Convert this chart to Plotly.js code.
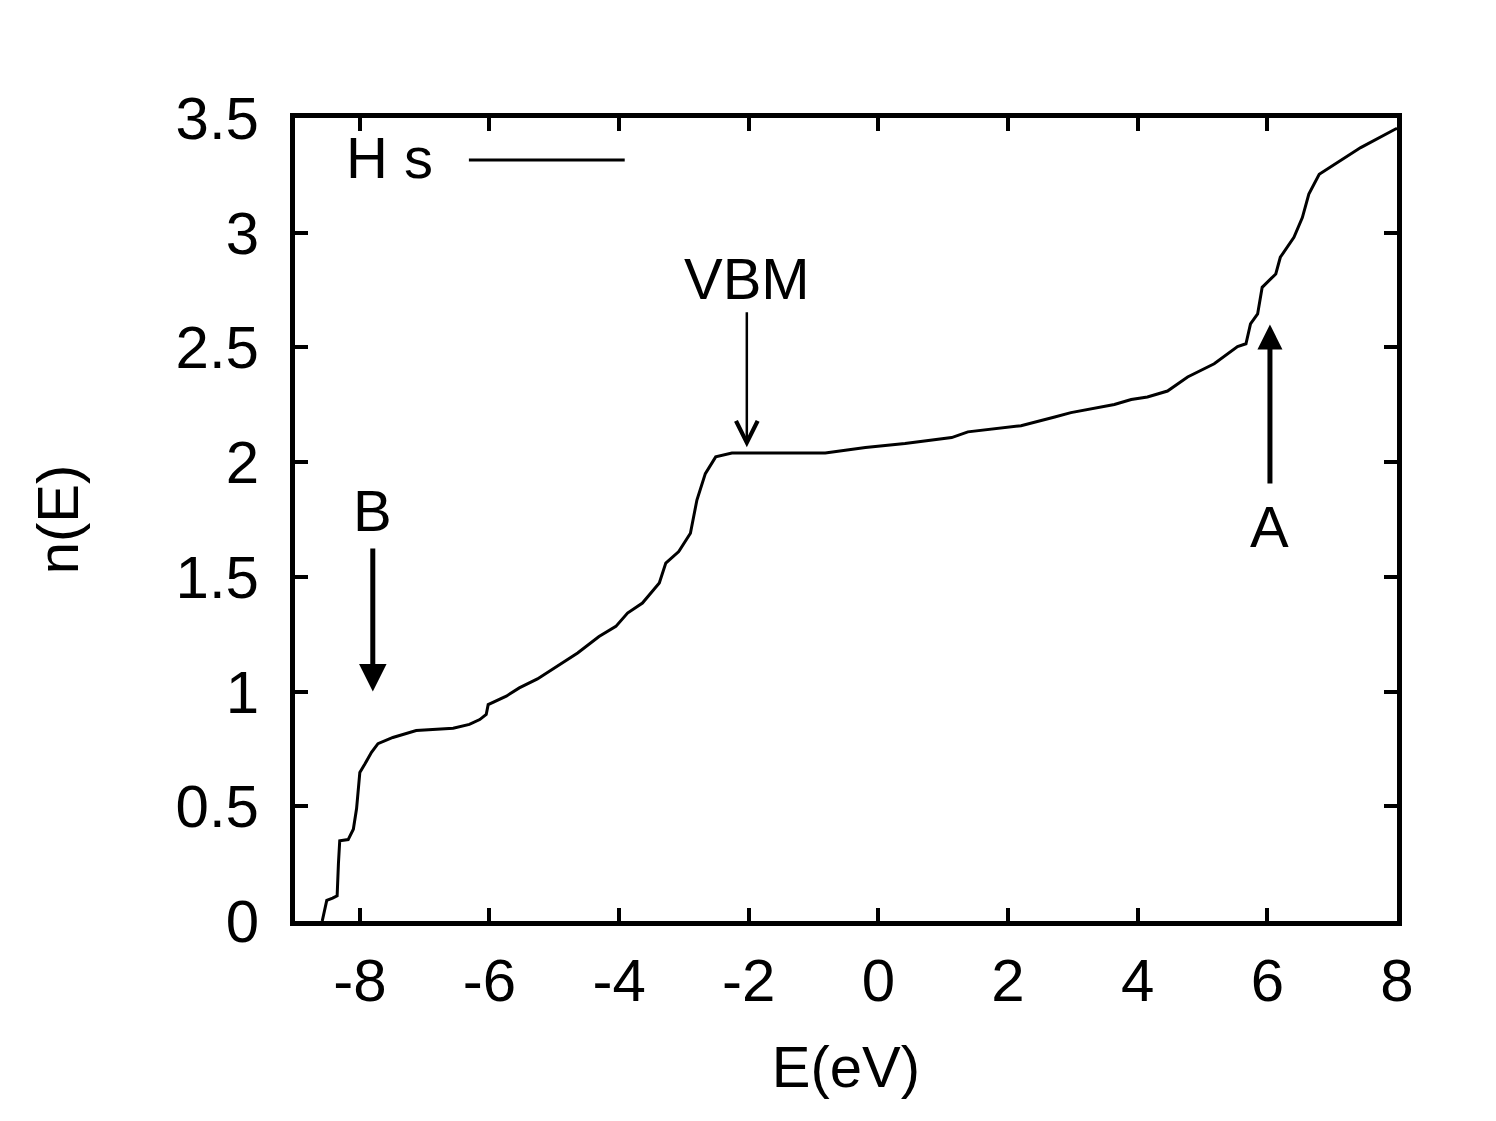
<!DOCTYPE html>
<html>
<head>
<meta charset="utf-8">
<script src="https://cdn.plot.ly/plotly-3.0.1.min.js"></script>
<style>html,body{margin:0;padding:0;background:#fff;}#chart{width:1496px;height:1121px;}</style>
</head>
<body>
<div id="chart"></div>
<script>
// Energy (eV) and integrated H s states n(E)
const energy = [-8.58, -8.51, -8.42, -8.35, -8.33, -8.31, -8.18, -8.10, -8.05, -8.02, -8.00, -7.92, -7.82, -7.72, -7.49, -7.13, -6.56, -6.31, -6.15, -6.05, -6.02, -5.74, -5.54, -5.26, -4.92, -4.64, -4.31, -4.05, -3.87, -3.64, -3.38, -3.28, -3.08, -2.90, -2.80, -2.67, -2.51, -2.36, -2.26, -0.82, -0.20, 0.41, 1.13, 1.38, 2.20, 2.72, 2.97, 3.64, 3.90, 4.15, 4.46, 4.77, 5.18, 5.54, 5.67, 5.74, 5.85, 5.92, 6.13, 6.20, 6.41, 6.54, 6.64, 6.80, 7.13, 7.44, 7.97, 8.00];
const nE = [0.00, 0.09, 0.10, 0.11, 0.25, 0.35, 0.355, 0.40, 0.49, 0.57, 0.647, 0.685, 0.735, 0.773, 0.80, 0.83, 0.84, 0.857, 0.878, 0.90, 0.943, 0.98, 1.016, 1.055, 1.117, 1.168, 1.24, 1.284, 1.342, 1.386, 1.473, 1.56, 1.61, 1.69, 1.835, 1.95, 2.023, 2.033, 2.04, 2.04, 2.064, 2.081, 2.107, 2.132, 2.159, 2.197, 2.216, 2.251, 2.273, 2.284, 2.310, 2.371, 2.429, 2.504, 2.516, 2.603, 2.646, 2.762, 2.82, 2.893, 2.98, 3.066, 3.168, 3.255, 3.313, 3.371, 3.451, 3.455];
const seriesName = "H s";

const xTickVals = [-8, -6, -4, -2, 0, 2, 4, 6, 8];
const xTickText = ["-8", "-6", "-4", "-2", "0", "2", "4", "6", "8"];
const yTickVals = [0, 0.5, 1, 1.5, 2, 2.5, 3, 3.5];
const yTickText = ["0", "0.5", "1", "1.5", "2", "2.5", "3", "3.5"];

// Annotated features: label, arrow tip (E, n), arrow tail n, label n
const markLabels = ["VBM", "B", "A"];
const markE = [-2.03, -7.80, 6.04];
const markTipN = [2.065, 1.00, 2.60];
const markTailN = [2.66, 1.63, 1.90];
const markLabelN = [2.80, 1.79, 1.72];

const FONT = "Liberation Sans, Arial, Helvetica, sans-serif";
const FS_TICK = 60;
const FS = 58;

const trace = {
  x: energy, y: nE, type: "scatter", mode: "lines", name: seriesName,
  line: {color: "#000", width: 3}, showlegend: false, hoverinfo: "skip"
};

const annotations = [];
const arrowStyle = [
  {head: 5, width: 2.5, size: 1.7},
  {head: 2, width: 5, size: 1.1},
  {head: 2, width: 5, size: 1.0}
];
for (let i = 0; i < markLabels.length; i++) {
  annotations.push({
    x: markE[i], y: markTipN[i], xref: "x", yref: "y",
    ax: markE[i], ay: markTailN[i], axref: "x", ayref: "y",
    text: "", showarrow: true, arrowhead: arrowStyle[i].head,
    arrowwidth: arrowStyle[i].width, arrowsize: arrowStyle[i].size,
    arrowcolor: "#000", standoff: 0, startstandoff: 0
  });
  annotations.push({
    x: markE[i], y: markLabelN[i], xref: "x", yref: "y",
    text: markLabels[i], showarrow: false,
    font: {family: FONT, size: FS, color: "#000"},
    xanchor: "center", yanchor: "middle"
  });
}
// legend key (text left of line sample, as in the original)
annotations.push({
  x: 0.127, y: 0.951, xref: "paper", yref: "paper",
  text: seriesName, showarrow: false, xanchor: "right", yanchor: "middle",
  font: {family: FONT, size: FS, color: "#000"}
});

const layout = {
  width: 1496, height: 1121,
  margin: {l: 295, r: 98.5, t: 117.5, b: 200, autoexpand: false},
  paper_bgcolor: "#fff", plot_bgcolor: "#fff",
  font: {family: FONT, size: FS, color: "#000"},
  showlegend: false,
  xaxis: {
    range: [-9, 8], tickmode: "array", tickvals: xTickVals, ticktext: xTickText,
    ticks: "inside", ticklen: 13, tickwidth: 4, tickcolor: "#000",
    showline: true, linewidth: 5, linecolor: "#000", mirror: "ticks",
    showgrid: false, zeroline: false, ticklabelstandoff: 3,
    tickfont: {family: FONT, size: FS_TICK, color: "#000"},
    title: {text: "E(eV)", font: {family: FONT, size: FS, color: "#000"}, standoff: 35},
    automargin: false, fixedrange: true
  },
  yaxis: {
    range: [0, 3.5], tickmode: "array", tickvals: yTickVals, ticktext: yTickText,
    ticks: "inside", ticklen: 13, tickwidth: 4, tickcolor: "#000",
    showline: true, linewidth: 5, linecolor: "#000", mirror: "ticks",
    showgrid: false, zeroline: false, ticklabelstandoff: 19,
    tickfont: {family: FONT, size: FS_TICK, color: "#000"},
    title: {text: "n(E)", font: {family: FONT, size: FS, color: "#000"}, standoff: 80},
    automargin: false, fixedrange: true
  },
  shapes: [{
    type: "line", xref: "paper", yref: "paper",
    x0: 0.1578, x1: 0.2992, y0: 0.9478, y1: 0.9478,
    line: {color: "#000", width: 3}
  }],
  annotations: annotations
};

Plotly.newPlot("chart", [trace], layout, {staticPlot: true, displayModeBar: false});
</script>
</body>
</html>
